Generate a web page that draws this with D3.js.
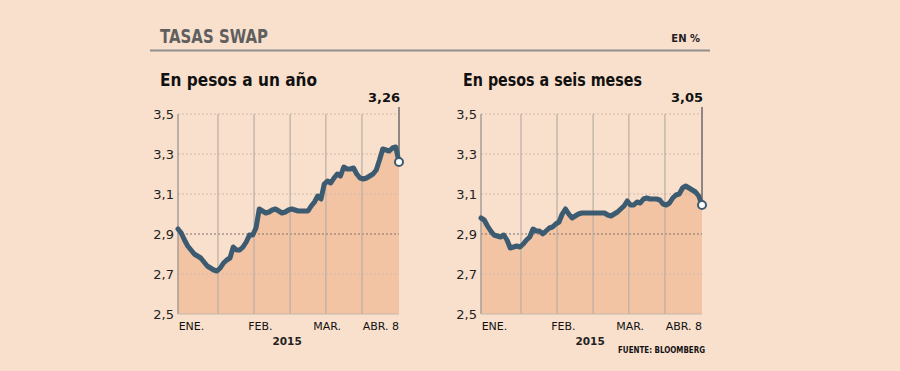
<!DOCTYPE html>
<html>
<head>
<meta charset="utf-8">
<script src="https://cdn.jsdelivr.net/npm/d3@7"></script>
<style>
  body { margin: 0; background: #f9e0cd; }
  svg { display: block; }
  text { font-family: "DejaVu Sans", Verdana, sans-serif; }
</style>
</head>
<body>
<script>
// data (one point per trading day, Jan 2 - Apr 8 2015)
var unAnio = [2.925, 2.905, 2.87, 2.84, 2.82, 2.80, 2.79, 2.78, 2.76, 2.74, 2.73, 2.72, 2.715, 2.73, 2.755,
  2.77, 2.78, 2.835, 2.82, 2.82, 2.835, 2.86, 2.895, 2.895, 2.93, 3.025, 3.015, 3.005, 3.01, 3.02,
  3.025, 3.015, 3.005, 3.01, 3.02, 3.025, 3.02, 3.015, 3.015, 3.015, 3.015, 3.04, 3.06, 3.09, 3.075,
  3.15, 3.165, 3.155, 3.18, 3.2, 3.19, 3.235, 3.225, 3.225, 3.23, 3.2, 3.18, 3.175, 3.18, 3.19,
  3.2, 3.22, 3.27, 3.325, 3.32, 3.315, 3.33, 3.335, 3.26];
var seisMeses = [2.98, 2.97, 2.94, 2.915, 2.895, 2.89, 2.885, 2.895, 2.87, 2.83, 2.835, 2.84, 2.835, 2.85, 2.87,
  2.885, 2.925, 2.915, 2.915, 2.9, 2.915, 2.93, 2.935, 2.95, 2.96, 3.0, 3.025, 3.0, 2.98, 2.99,
  3.0, 3.005, 3.005, 3.005, 3.005, 3.005, 3.005, 3.005, 3.005, 2.995, 2.99, 3.0, 3.01, 3.025, 3.04,
  3.065, 3.045, 3.045, 3.06, 3.055, 3.075, 3.08, 3.075, 3.075, 3.075, 3.07, 3.05, 3.045, 3.055, 3.08,
  3.095, 3.1, 3.13, 3.14, 3.13, 3.12, 3.11, 3.09, 3.045];
var yTicks = [2.5, 2.7, 2.9, 3.1, 3.3, 3.5];
var gridIdx = [12.3, 23.4, 34.5, 45.5, 56.6];   // vertical grid (day index)
var monthLabels = ["ENE.", "FEB.", "MAR.", "ABR. 8"];
var monthIdx = [0.2, 21.6, 41.6, 68];
var lastLabels = ["3,26", "3,05"];

var W = 900, H = 371;
var svg = d3.select("body").append("svg").attr("width", W).attr("height", H);
var fmt = function(d){ return d3.format(".1f")(d).replace(".", ","); };

// header
svg.append("text").attr("x", 160).attr("y", 43).attr("font-size", 19).attr("font-weight", "bold")
  .attr("fill", "#5f5f5f").attr("textLength", 108).attr("lengthAdjust", "spacingAndGlyphs").text("TASAS SWAP");
svg.append("text").attr("x", 700).attr("y", 42).attr("text-anchor", "end").attr("font-size", 10)
  .attr("font-weight", "bold").attr("fill", "#222").text("EN %");
svg.append("line").attr("x1", 150).attr("x2", 710).attr("y1", 50.5).attr("y2", 50.5)
  .attr("stroke", "#8f8f8f").attr("stroke-width", 2);

function drawChart(x0, title, titleLen, vals, last){
  var n = vals.length;
  var x = d3.scaleLinear().domain([0, n - 1]).range([x0, x0 + 221]);
  var y = d3.scaleLinear().domain([2.5, 3.5]).range([314, 114]);
  var g = svg.append("g");

  g.append("text").attr("x", x0 - 18).attr("y", 86).attr("font-size", 17.5).attr("font-weight", "bold")
    .attr("fill", "#111").attr("textLength", titleLen).attr("lengthAdjust", "spacingAndGlyphs").text(title);

  // area
  g.append("path").datum(vals)
    .attr("d", d3.area().x(function(d, i){ return x(i); }).y0(y(2.5)).y1(function(d){ return y(d); }))
    .attr("fill", "#f3c4a4");

  // horizontal grid
  g.selectAll(".hg").data(yTicks.slice(1)).enter().append("line")
    .attr("x1", x(0)).attr("x2", x(n - 1))
    .attr("y1", function(d){ return y(d); }).attr("y2", function(d){ return y(d); })
    .attr("stroke", function(d){ return d === 2.9 ? "#7d716a" : "#d3b9a9"; })
    .attr("stroke-width", 1).attr("stroke-dasharray", "2,2");

  // vertical grid
  g.selectAll(".vg").data(gridIdx).enter().append("line")
    .attr("x1", function(d){ return x(d); }).attr("x2", function(d){ return x(d); })
    .attr("y1", y(3.5)).attr("y2", y(2.5))
    .attr("stroke", "#b9ada4").attr("stroke-width", 1.2);

  // y axis line and bottom
  g.append("line").attr("x1", x(0)).attr("x2", x(0)).attr("y1", y(3.5)).attr("y2", y(2.5))
    .attr("stroke", "#a89e97").attr("stroke-width", 1.5);
  g.append("line").attr("x1", x(0)).attr("x2", x(n - 1)).attr("y1", y(2.5)).attr("y2", y(2.5))
    .attr("stroke", "#c9b6a8").attr("stroke-width", 1);

  // y tick labels
  g.selectAll(".yl").data(yTicks).enter().append("text")
    .attr("x", x0 - 4).attr("y", function(d){ return y(d) + 5; })
    .attr("text-anchor", "end").attr("font-size", 13).attr("fill", "#222").text(fmt);

  // x labels
  g.selectAll(".xl").data(monthLabels).enter().append("text")
    .attr("x", function(d, i){ return x(monthIdx[i]); }).attr("y", 330)
    .attr("text-anchor", function(d, i){ return i === monthLabels.length - 1 ? "end" : "start"; })
    .attr("font-size", 11).attr("fill", "#111").text(function(d){ return d; });
  g.append("text").attr("x", x(n / 2) - 3).attr("y", 345).attr("text-anchor", "middle")
    .attr("font-size", 10.5).attr("font-weight", "bold").attr("fill", "#222").text("2015");

  // leader line to the last value
  g.append("line").attr("x1", x(n - 1)).attr("x2", x(n - 1)).attr("y1", 107).attr("y2", y(vals[n - 1]))
    .attr("stroke", "#6d6a68").attr("stroke-width", 1.5);
  g.append("text").attr("x", x(n - 1) + 1).attr("y", 102).attr("text-anchor", "end")
    .attr("font-size", 13).attr("font-weight", "bold").attr("fill", "#111").text(last);

  // line
  g.append("path").datum(vals)
    .attr("d", d3.line().x(function(d, i){ return x(i); }).y(function(d){ return y(d); }))
    .attr("fill", "none").attr("stroke", "#3d5b70").attr("stroke-width", 5)
    .attr("stroke-linejoin", "round").attr("stroke-linecap", "round");

  g.append("circle").attr("cx", x(n - 1)).attr("cy", y(vals[n - 1])).attr("r", 4)
    .attr("fill", "#fff").attr("stroke", "#3d5b70").attr("stroke-width", 2);
}

drawChart(178, "En pesos a un año", 157, unAnio, lastLabels[0]);
drawChart(481, "En pesos a seis meses", 179, seisMeses, lastLabels[1]);

svg.append("text").attr("x", 705).attr("y", 353).attr("text-anchor", "end").attr("font-size", 9)
  .attr("font-weight", "bold").attr("fill", "#111").attr("textLength", 87)
  .attr("lengthAdjust", "spacingAndGlyphs").text("FUENTE: BLOOMBERG");
</script>
</body>
</html>
